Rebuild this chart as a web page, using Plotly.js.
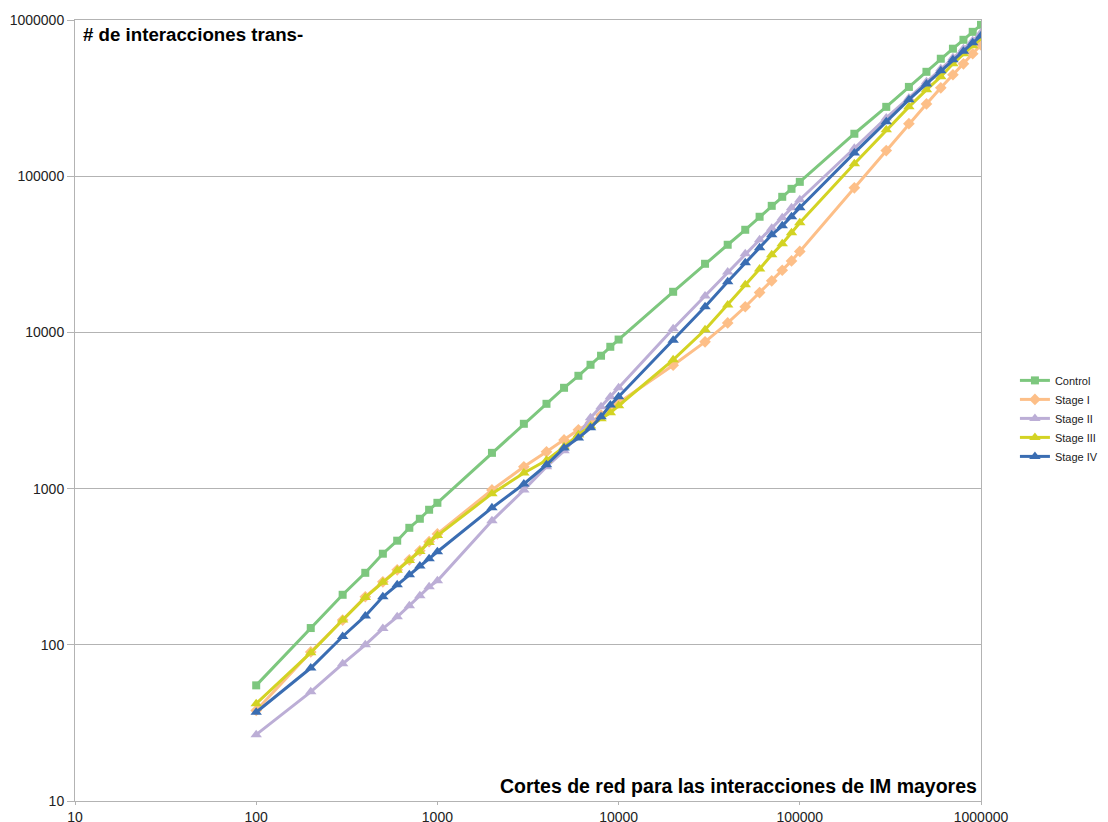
<!DOCTYPE html>
<html><head><meta charset="utf-8">
<script src="https://cdn.plot.ly/plotly-3.0.1.min.js"></script>
<style>html,body{margin:0;padding:0;background:#fff}#chart{width:1108px;height:822px}</style>
</head><body><div id="chart"></div>
<script>
const xValues = [100,200,300,400,500,600,700,800,900,1000,2000,3000,4000,5000,6000,7000,8000,9000,10000,20000,30000,40000,50000,60000,70000,80000,90000,100000,200000,300000,400000,500000,600000,700000,800000,900000,1000000];
const control = [55,128,209,289,383,464,561,641,732,811,1694,2600,3490,4420,5275,6205,7090,8090,9000,18200,27500,36400,45400,55000,64600,73800,83000,92000,187000,278000,373000,466000,565000,655000,747000,840000,931000];
const stageI = [38,90,144,203,253,302,350,400,457,513,980,1380,1720,2050,2380,2640,2960,3290,3550,6170,8700,11500,14600,18000,21400,25000,28700,33000,84300,146000,217000,290000,368000,446000,524000,608000,693000];
const stageII = [26.6,50,75.5,100,127,151,178,206,235,257,622,980,1380,1745,2210,2840,3340,3870,4420,10550,17100,24400,31900,39200,46500,54200,62800,70700,151000,236000,317000,402000,487000,573000,654000,736000,828000];
const stageIII = [42,89,144,201,251,300,347,396,452,500,928,1260,1520,1850,2210,2520,2800,3060,3390,6670,10400,15000,20200,25500,31400,36900,43400,50400,120000,198000,278000,357000,433000,524000,608000,684000,760000];
const stageIV = [37,71,113,153,203,242,281,320,355,394,753,1070,1420,1820,2110,2450,2880,3430,3870,8910,14600,21100,27900,34800,42200,48100,55000,62800,141000,223000,309000,390000,473000,556000,632000,714000,794000];
const seriesNames = ["Control","Stage I","Stage II","Stage III","Stage IV"];
const tickVals = [10,100,1000,10000,100000,1000000];
const tickText = ["10","100","1000","10000","100000","1000000"];
const yTitle = "# de interacciones trans-";
const xTitle = "Cortes de red para las interacciones de IM mayores";

const styles = [
  {color:"#7dc77e", symbol:"square", size:8},
  {color:"#fdbf88", symbol:"diamond", size:9},
  {color:"#bcaed6", symbol:"triangle-up", size:10},
  {color:"#d3d323", symbol:"triangle-up", size:10},
  {color:"#3a6db2", symbol:"triangle-up", size:10}
];
const ys = [control, stageI, stageII, stageIII, stageIV];
const traces = ys.map((y,i)=>({
  x: xValues, y: y, name: seriesNames[i], type:"scatter", mode:"lines+markers",
  line:{color:styles[i].color, width:3},
  marker:{color:styles[i].color, symbol:styles[i].symbol, size:styles[i].size}
}));

const tickFont = {family:"Liberation Sans, Arial, sans-serif", size:14, color:"#222"};
const axisCommon = {
  type:"log", tickvals:tickVals, ticktext:tickText,
  showline:true, linecolor:"#b3b3b3", linewidth:1, mirror:true,
  ticks:"outside", tickcolor:"#b3b3b3",
  tickfont:tickFont, zeroline:false
};
const layout = {
  width:1108, height:822,
  margin:{l:75, r:127, t:20, b:21},
  paper_bgcolor:"#fff", plot_bgcolor:"#fff",
  font:{family:"Liberation Sans, Arial, sans-serif"},
  xaxis: Object.assign({}, axisCommon, {range:[1,6], showgrid:false, ticklen:3}),
  yaxis: Object.assign({}, axisCommon, {range:[1,6], showgrid:true, gridcolor:"#b3b3b3", gridwidth:1, ticklen:7}),
  legend:{xref:"container", yref:"container", x:0.916, y:0.491, xanchor:"left", yanchor:"middle", font:{size:11, color:"#222"}, tracegroupgap:0},
  showlegend:true,
  annotations:[
    {text:"<b>"+yTitle+"</b>", xref:"paper", yref:"paper", x:0.007, y:0.997, xanchor:"left", yanchor:"top", showarrow:false, font:{size:18.7, color:"#000"}},
    {text:"<b>"+xTitle+"</b>", xref:"paper", yref:"paper", x:0.998, y:0.003, xanchor:"right", yanchor:"bottom", showarrow:false, font:{size:19.5, color:"#000"}}
  ]
};
Plotly.newPlot("chart", traces, layout, {displayModeBar:false, staticPlot:true});
</script></body></html>
